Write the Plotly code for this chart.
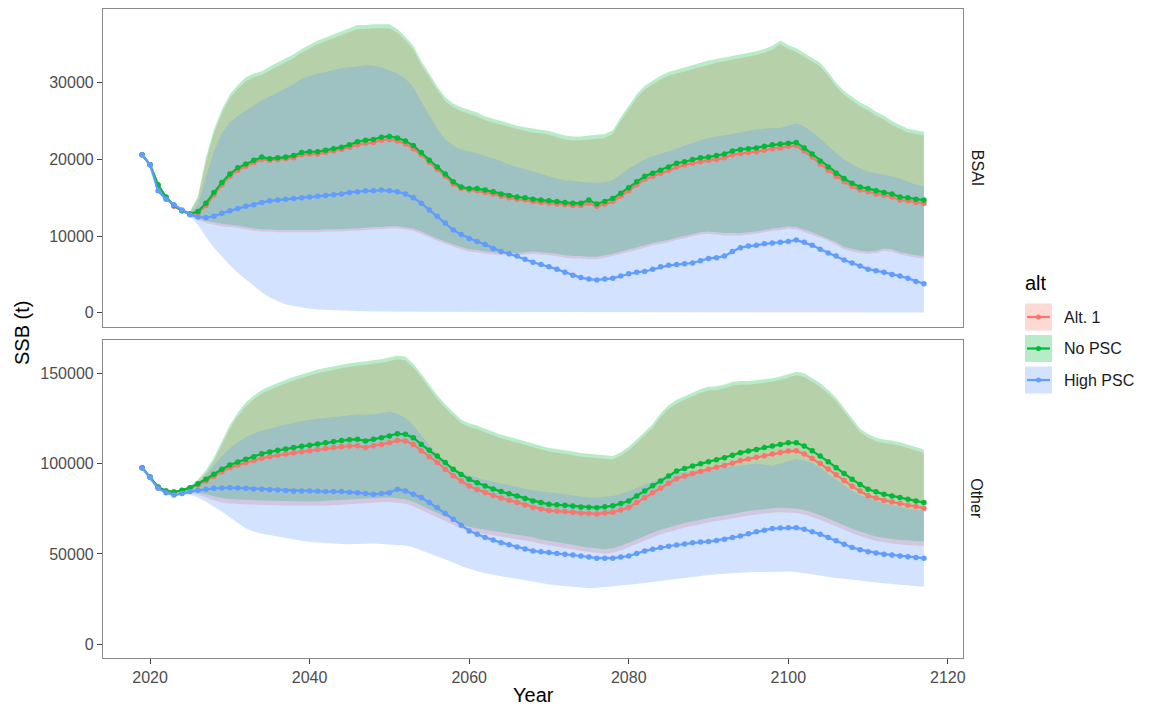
import plotly.graph_objects as go

years = list(range(2019, 2118))
alts = ["Alt. 1", "No PSC", "High PSC"]
colors = {"Alt. 1": "#F8766D", "No PSC": "#00BA38", "High PSC": "#619CFF"}
fills = {"Alt. 1": "rgba(248,118,109,0.28)", "No PSC": "rgba(0,186,56,0.28)", "High PSC": "rgba(97,156,255,0.28)"}
facets = ["BSAI", "Other"]

# ---------------- BSAI ----------------
bsai_alt1_mean = [20600, 19300, 16600, 15000, 13900, 13300, 12900, 13000, 14000, 15400,
                  16700, 17800, 18600, 19100, 19600, 20000, 19900, 20000, 20100, 20200,
                  20600, 20700, 20700, 20900, 21100, 21300, 21600, 21900, 22100, 22200,
                  22500, 22600, 22400, 22000, 21400, 20600, 19600, 18700, 17800, 16800,
                  16200, 16000, 15900, 15700, 15500, 15200, 15000, 14800, 14700, 14500,
                  14400, 14300, 14200, 14100, 14000, 14000, 14300, 13900, 14200, 14500,
                  15200, 15900, 16700, 17400, 17800, 18200, 18600, 19000, 19300, 19500,
                  19700, 19900, 20000, 20200, 20600, 20800, 20900, 21000, 21200, 21400,
                  21500, 21700, 21800, 21100, 20300, 19400, 18600, 17800, 17100, 16500,
                  16000, 15800, 15500, 15300, 15100, 14700, 14600, 14400, 14300]
bsai_nopsc_mean = [20600, 19300, 16700, 15100, 14000, 13300, 12900, 13200, 14300, 15700,
                   17000, 18100, 18900, 19400, 19900, 20300, 20100, 20200, 20300, 20500,
                   20900, 21000, 21000, 21200, 21400, 21600, 21900, 22300, 22500, 22600,
                   22900, 23000, 22800, 22400, 21800, 20900, 19900, 19000, 18100, 17100,
                   16400, 16200, 16200, 16000, 15800, 15500, 15300, 15100, 15000, 14800,
                   14700, 14600, 14500, 14400, 14300, 14300, 14700, 14200, 14500, 14900,
                   15600, 16300, 17100, 17800, 18200, 18600, 19000, 19500, 19700, 20000,
                   20200, 20300, 20500, 20700, 21100, 21300, 21400, 21500, 21700, 21900,
                   22000, 22100, 22200, 21500, 20700, 19800, 19000, 18200, 17500, 16900,
                   16400, 16200, 15900, 15700, 15500, 15100, 15000, 14800, 14700]
bsai_high_mean = [20600, 19300, 15900, 14800, 14100, 13400, 12800, 12500, 12400, 12600,
                  13000, 13300, 13600, 13900, 14100, 14400, 14600, 14700, 14800, 14900,
                  15000, 15100, 15200, 15300, 15400, 15500, 15700, 15800, 15900, 15900,
                  16000, 15900, 15800, 15500, 15000, 14300, 13400, 12600, 11700, 10800,
                  10200, 9700, 9300, 8900, 8400, 8000, 7700, 7400, 7000, 6600,
                  6300, 6000, 5700, 5300, 4900, 4600, 4400, 4300, 4400, 4500,
                  4800, 5100, 5300, 5400, 5700, 6000, 6200, 6300, 6400, 6500,
                  6800, 7100, 7200, 7400, 8000, 8500, 8700, 8800, 9000, 9100,
                  9200, 9300, 9500, 9200, 8800, 8300, 7800, 7400, 6900, 6500,
                  6100, 5700, 5500, 5300, 5000, 4800, 4500, 4100, 3800]
bsai_alt1_hi = [20600, 19300, 16700, 15100, 14000, 13300, 13100, 14900, 19700, 23400,
                26000, 28000, 29200, 30200, 30700, 31000, 31600, 32100, 32600, 33200,
                33900, 34500, 35000, 35400, 35800, 36200, 36700, 37000, 37000, 37100,
                37100, 37100, 36500, 35500, 34300, 32300, 30700, 29000, 27600, 26800,
                26300, 26000, 25600, 25100, 24800, 24500, 24200, 23900, 23700, 23500,
                23400, 23200, 22900, 22600, 22500, 22500, 22600, 22700, 22800, 23300,
                25000, 26500, 28000, 29100, 29800, 30400, 30900, 31200, 31500, 31800,
                32100, 32400, 32600, 32800, 33000, 33200, 33400, 33600, 33900, 34300,
                35000, 34400, 34000, 33400, 32800, 32100, 30900, 29500, 28400, 27600,
                26900, 26400, 25700, 25200, 24500, 24000, 23500, 23300, 23100]
bsai_alt1_lo = [20600, 19300, 16500, 14900, 13800, 13100, 12600, 12100, 11700, 11500,
                11300, 11200, 11100, 10900, 10700, 10600, 10600, 10500, 10500, 10500,
                10500, 10500, 10500, 10600, 10600, 10600, 10700, 10700, 10800, 10900,
                10900, 11000, 11000, 10900, 10700, 10300, 9900, 9400, 9000, 8600,
                8300, 8000, 7900, 7700, 7600, 7500, 7500, 7500, 7600, 7700,
                7600, 7500, 7400, 7200, 7100, 7100, 7000, 7000, 7200, 7400,
                7700, 7900, 8200, 8500, 8800, 9000, 9200, 9500, 9800, 10000,
                10200, 10300, 10200, 10100, 10100, 10100, 10200, 10300, 10500, 10700,
                10800, 11000, 10900, 10600, 10200, 9800, 9400, 8900, 8300, 8000,
                7800, 7700, 7800, 8100, 8000, 7600, 7400, 7200, 7100]
bsai_nopsc_hi = [20600, 19300, 16800, 15200, 14100, 13400, 13200, 15200, 20200, 23900,
                 26500, 28500, 29700, 30700, 31200, 31500, 32100, 32600, 33100, 33700,
                 34400, 35000, 35500, 35900, 36300, 36700, 37200, 37500, 37500, 37600,
                 37600, 37600, 37000, 36000, 34800, 32800, 31200, 29500, 28100, 27300,
                 26800, 26500, 26100, 25600, 25300, 25000, 24700, 24400, 24200, 24000,
                 23900, 23700, 23400, 23100, 23000, 23000, 23100, 23200, 23300, 23800,
                 25500, 27000, 28500, 29600, 30300, 30900, 31400, 31700, 32000, 32300,
                 32600, 32900, 33100, 33300, 33500, 33700, 33900, 34100, 34400, 34800,
                 35500, 34900, 34500, 33900, 33300, 32600, 31400, 30000, 28900, 28100,
                 27400, 26900, 26200, 25700, 25000, 24500, 24000, 23800, 23600]
bsai_nopsc_lo = [20600, 19300, 16600, 15000, 13900, 13200, 12700, 12300, 12000, 11800,
                 11600, 11500, 11400, 11200, 11000, 10900, 10900, 10800, 10800, 10800,
                 10800, 10800, 10800, 10900, 10900, 10900, 11000, 11000, 11100, 11200,
                 11200, 11300, 11300, 11200, 11000, 10600, 10200, 9700, 9300, 8900,
                 8600, 8300, 8200, 8000, 7900, 7800, 7800, 7800, 7900, 8000,
                 7900, 7800, 7700, 7500, 7400, 7400, 7300, 7300, 7500, 7700,
                 8000, 8200, 8500, 8800, 9100, 9300, 9500, 9800, 10100, 10300,
                 10500, 10600, 10500, 10400, 10400, 10400, 10500, 10600, 10800, 11000,
                 11100, 11300, 11200, 10900, 10500, 10100, 9700, 9200, 8600, 8300,
                 8100, 8000, 8100, 8400, 8300, 7900, 7700, 7500, 7400]
bsai_high_hi = [20600, 19300, 16000, 14900, 14200, 13500, 13000, 14000, 17700, 21000,
                23400, 24800, 25700, 26400, 27000, 27700, 28200, 28700, 29200, 29800,
                30500, 30900, 31200, 31400, 31700, 31900, 32000, 32100, 32300, 32200,
                32000, 31600, 31200, 30500, 29400, 27500, 25800, 24000, 22600, 21800,
                21300, 21100, 20800, 20400, 20100, 19800, 19300, 19000, 18700, 18400,
                18000, 17800, 17500, 17300, 17200, 17100, 17000, 17000, 17000, 17300,
                18100, 18800, 19400, 20000, 20400, 20700, 21100, 21400, 21800, 22200,
                22500, 22800, 23000, 23100, 23300, 23500, 23700, 23900, 24000, 24100,
                24100, 24400, 24700, 24300, 23600, 22700, 21700, 20800, 20000, 19400,
                18800, 18400, 18200, 18000, 17800, 17500, 17100, 16700, 16500]
bsai_high_lo = [20600, 19300, 15800, 14700, 14000, 13300, 12600, 11500, 9900, 8500,
                7300, 6200, 5200, 4300, 3500, 2700, 2000, 1500, 1100, 900,
                700, 550, 450, 400, 350, 300, 280, 250, 220, 200,
                180, 160, 150, 150, 140, 140, 130, 130, 120, 120,
                110, 110, 100, 100, 100, 100, 100, 100, 90, 90,
                90, 90, 90, 80, 80, 80, 80, 80, 80, 80,
                80, 80, 80, 70, 70, 70, 70, 70, 70, 70,
                70, 70, 70, 60, 60, 60, 60, 60, 60, 60,
                60, 60, 60, 60, 60, 60, 50, 50, 50, 50,
                50, 50, 50, 50, 50, 50, 50, 50, 50]

# ---------------- Other ----------------
other_alt1_mean = [97900, 92700, 87200, 85000, 84400, 85200, 86500, 88400, 90500, 93000,
                   95600, 97900, 99300, 100600, 101800, 103100, 104000, 104800, 105400, 106100,
                   106700, 107300, 107900, 108500, 109100, 109600, 109900, 110000, 109100, 110000,
                   110800, 111700, 113000, 112700, 110800, 107200, 104000, 100800, 97000, 93400,
                   90500, 87700, 85800, 84100, 82500, 81000, 79800, 78600, 77200, 75800,
                   75000, 74100, 73800, 73500, 73100, 72600, 72400, 72200, 72700, 73200,
                   74400, 75800, 78500, 81200, 83900, 86500, 89200, 91800, 93200, 94600,
                   95800, 97000, 98100, 99100, 100400, 101800, 102700, 103600, 104500, 105400,
                   106300, 107100, 107200, 105500, 102900, 100200, 97100, 93900, 90700, 87600,
                   84900, 82300, 81000, 79700, 78800, 78000, 77100, 76300, 75400]
other_nopsc_mean = [97900, 92700, 87200, 85000, 84400, 85300, 86800, 89000, 91400, 94200,
                    97000, 99400, 101000, 102500, 104000, 105600, 106600, 107500, 108200, 109000,
                    109700, 110300, 111000, 111700, 112400, 113000, 113400, 113600, 112700, 113600,
                    114500, 115400, 116700, 116400, 114500, 110800, 107600, 104400, 100700, 97000,
                    94100, 91400, 89500, 87700, 86100, 84600, 83400, 82200, 80800, 79400,
                    78500, 77600, 77300, 77000, 76600, 76100, 75900, 75700, 76200, 76700,
                    78000, 79400, 82200, 85000, 87800, 90500, 93300, 96000, 97400, 98800,
                    100000, 101200, 102300, 103400, 104800, 106200, 107100, 108000, 109000, 109900,
                    110800, 111700, 111700, 109900, 107200, 104400, 101200, 97900, 94600, 91400,
                    88600, 85900, 84500, 83100, 82200, 81300, 80300, 79400, 78500]
other_high_mean = [97900, 92400, 86400, 84000, 82700, 83500, 84600, 85300, 85900, 86400,
                   86600, 86800, 86600, 86400, 86100, 85900, 85700, 85500, 85200, 85000,
                   85000, 85000, 84800, 84600, 84600, 84600, 84300, 84000, 83500, 83100,
                   83500, 84000, 85900, 85000, 83200, 81300, 78500, 75700, 72500, 69300,
                   66000, 62800, 60900, 59100, 57700, 56300, 55100, 53900, 52800, 51700,
                   51200, 50800, 50300, 49900, 49400, 48900, 48300, 47700, 47700, 47700,
                   48300, 48900, 50300, 51700, 52600, 53600, 54300, 55000, 55600, 56300,
                   56600, 56900, 57500, 58200, 59100, 60000, 61200, 62400, 63200, 64100,
                   64400, 64600, 64600, 63700, 62300, 61000, 59100, 57300, 55400, 53600,
                   52400, 51300, 50600, 49900, 49400, 48900, 48400, 48000, 47700]
other_alt1_hi = [97900, 92700, 87200, 85100, 84700, 85800, 87400, 90300, 95000, 101700,
                 110500, 119500, 126500, 132000, 135800, 139000, 141000, 143000, 144700, 146200,
                 147800, 149000, 150300, 151300, 152200, 153000, 153800, 154500, 155000, 155500,
                 156000, 156800, 158000, 157500, 153500, 148000, 142000, 136000, 131000, 126500,
                 122500, 120500, 119300, 117500, 115700, 114200, 113000, 111700, 110300, 109200,
                 107700, 106800, 106300, 105700, 104800, 104000, 103600, 103200, 102800, 102400,
                 104500, 107500, 111500, 115500, 120000, 126000, 130500, 133500, 135300, 137500,
                 139500, 140700, 141000, 142000, 143500, 144000, 143900, 144300, 144700, 145500,
                 146500, 148000, 149100, 148200, 145500, 142800, 139000, 134700, 129000, 123000,
                 117500, 114500, 112500, 111500, 111000, 110000, 108800, 107200, 106000]
other_alt1_lo = [97900, 92700, 87000, 84600, 83800, 84000, 84000, 83000, 81500, 79800,
                 78600, 78000, 77700, 77400, 77200, 77100, 77000, 76900, 76800, 76700,
                 76600, 76600, 76700, 76800, 76900, 77200, 77500, 77800, 78100, 78400,
                 78700, 78800, 78500, 77900, 76500, 74500, 72300, 70300, 68100, 66100,
                 64100, 62500, 61500, 60800, 60200, 59500, 58800, 58100, 57300, 56800,
                 55600, 54900, 54100, 53300, 52500, 51800, 51100, 50500, 50100, 50700,
                 52100, 53700, 55700, 57300, 59300, 60900, 62300, 63500, 64700, 65800,
                 66500, 67500, 68300, 69000, 69800, 70500, 71300, 72000, 72500, 72900,
                 73200, 73000, 72700, 71900, 70500, 69000, 67300, 65400, 63400, 61500,
                 59800, 58500, 57200, 56500, 55800, 55200, 54900, 54600, 54400]
other_nopsc_hi = [97900, 92700, 87300, 85200, 84800, 86000, 87800, 91300, 96500, 103500,
                  112500, 121500, 128500, 134000, 137800, 141000, 143000, 145000, 146700, 148200,
                  149800, 151000, 152300, 153300, 154200, 155000, 155800, 156500, 157000, 157500,
                  158000, 158800, 160000, 159500, 155500, 150000, 144000, 138000, 133000, 128500,
                  124500, 122500, 121300, 119500, 117700, 116200, 115000, 113700, 112300, 111200,
                  109700, 108800, 108300, 107700, 106800, 106000, 105600, 105200, 104800, 104400,
                  106500, 109500, 113500, 117500, 122000, 128000, 132500, 135500, 137300, 139500,
                  141500, 142700, 143000, 144000, 145500, 146000, 145900, 146300, 146700, 147500,
                  148500, 150000, 151100, 150200, 147500, 144800, 141000, 136700, 131000, 125000,
                  119500, 116500, 114500, 113500, 113000, 112000, 110800, 109200, 108000]
other_nopsc_lo = [97900, 92700, 87100, 84800, 84000, 84300, 84500, 84000, 83300, 82000,
                  81000, 80500, 80200, 79900, 79700, 79600, 79500, 79400, 79300, 79200,
                  79100, 79100, 79200, 79300, 79400, 79700, 80000, 80300, 80600, 80900,
                  81200, 81300, 81000, 80400, 79000, 77000, 74800, 72800, 70600, 68600,
                  66600, 65000, 64000, 63300, 62700, 62000, 61300, 60600, 59800, 59300,
                  58100, 57400, 56600, 55800, 55000, 54300, 53600, 53000, 52600, 53200,
                  54600, 56200, 58200, 59800, 61800, 63400, 64800, 66000, 67200, 68300,
                  69000, 70000, 70800, 71500, 72300, 73000, 73800, 74500, 75000, 75400,
                  75700, 75500, 75200, 74400, 73000, 71500, 69800, 67900, 65900, 64000,
                  62300, 61000, 59700, 59000, 58300, 57700, 57400, 57100, 56900]
other_high_hi = [97900, 92400, 86500, 84200, 83000, 84000, 85600, 88800, 93500, 99000,
                 104300, 108600, 112000, 114800, 116800, 118300, 119600, 120700, 121800, 122800,
                 123700, 124500, 125000, 125500, 126000, 126500, 127200, 127400, 127400, 127400,
                 128000, 128900, 127800, 125500, 121400, 116000, 110300, 105800, 101500, 97900,
                 95200, 93700, 92300, 91000, 90000, 89300, 88300, 87200, 86000, 85300,
                 84500, 84100, 83700, 83300, 82600, 81900, 81300, 81400, 81600, 82200,
                 83300, 84600, 86400, 88300, 90200, 92000, 93800, 94900, 95500, 95900,
                 96600, 97400, 97900, 98300, 98700, 99200, 99700, 100100, 99500, 99000,
                 100000, 101600, 102500, 101800, 100500, 97700, 94200, 91000, 87800, 85100,
                 82600, 80900, 79400, 78100, 77000, 76000, 75000, 74400, 73900]
other_high_lo = [97900, 92300, 86300, 83800, 82400, 82800, 83000, 81300, 79000, 76200,
                 73600, 70500, 67200, 64200, 62500, 61200, 60200, 59500, 58700, 58100,
                 57400, 56600, 56200, 56000, 55800, 55600, 55400, 55400, 55600, 55800,
                 55600, 55400, 55100, 54700, 53800, 52200, 50600, 48800, 47000, 45300,
                 43400, 41800, 40400, 39300, 38300, 37500, 36800, 36200, 35400, 34700,
                 33700, 33100, 32600, 32100, 31700, 31300, 31000, 31200, 31400, 31800,
                 32300, 32800, 33300, 33900, 34500, 35000, 35500, 36000, 36600, 37200,
                 37800, 38300, 38700, 39100, 39400, 39600, 39800, 40000, 40200, 40300,
                 40300, 40300, 40000, 39400, 38800, 38000, 37200, 36500, 35800, 35300,
                 35000, 34600, 34200, 33700, 33400, 33100, 32800, 32300, 31800]

x_ticks = [2020, 2040, 2060, 2080, 2100, 2120]
bsai_ticks = [0, 10000, 20000, 30000]
other_ticks = [0, 50000, 100000, 150000]

data = {
    "BSAI": {
        "Alt. 1": (bsai_alt1_mean, bsai_alt1_lo, bsai_alt1_hi),
        "No PSC": (bsai_nopsc_mean, bsai_nopsc_lo, bsai_nopsc_hi),
        "High PSC": (bsai_high_mean, bsai_high_lo, bsai_high_hi),
    },
    "Other": {
        "Alt. 1": (other_alt1_mean, other_alt1_lo, other_alt1_hi),
        "No PSC": (other_nopsc_mean, other_nopsc_lo, other_nopsc_hi),
        "High PSC": (other_high_mean, other_high_lo, other_high_hi),
    },
}
for f in data:
    for a in data[f]:
        for arr in data[f][a]:
            assert len(arr) == len(years), (f, a, len(arr))

# ---------------- layout geometry ----------------
# The page body has an 8px margin, so the figure is drawn 8px smaller and every
# target position (given in window pixels) is shifted by that offset.
OFF = 8
W, H = 1149 - OFF, 708 - OFF
# target plot area in window pixels: x 103..963, y 9..658
TOP_PX, BOT_PX, LEFT_PX, RIGHT_PX = 9, 658, 103, 963
L = LEFT_PX - OFF
R = W - (RIGHT_PX - OFF)
T = TOP_PX - OFF
B = H - (BOT_PX - OFF)
PW = W - L - R
PH = H - T - B


def px(x):
    return (x - OFF - L) / PW


def py(y):
    return (H - B - (y - OFF)) / PH


FONT = "Liberation Sans, Arial, Helvetica, sans-serif"
fig = go.Figure()
axes = {"BSAI": ("x", "y"), "Other": ("x2", "y2")}

# ribbons
for f in facets:
    xa, ya = axes[f]
    for a in alts:
        m, lo, hi = data[f][a]
        fig.add_trace(go.Scatter(
            x=years + years[::-1], y=hi + lo[::-1], xaxis=xa, yaxis=ya,
            mode="lines", fill="toself", fillcolor=fills[a],
            line=dict(width=0, color=fills[a]), hoverinfo="skip", showlegend=False))
# lines + points
for f in facets:
    xa, ya = axes[f]
    for a in alts:
        m, lo, hi = data[f][a]
        fig.add_trace(go.Scatter(
            x=years, y=m, xaxis=xa, yaxis=ya, mode="lines+markers", name=a,
            line=dict(color=colors[a], width=2.2),
            marker=dict(color=colors[a], size=5.5), showlegend=False))

axis_common = dict(showline=True, mirror=True, linecolor="#8a8a8a", linewidth=1.2,
                   showgrid=False, zeroline=False, ticks="outside", ticklen=5,
                   tickcolor="#444444", tickwidth=1,
                   tickfont=dict(family=FONT, size=16, color="#4d4d4d"))

fig.update_layout(
    width=W, height=H, paper_bgcolor="white", plot_bgcolor="white",
    margin=dict(l=L, r=R, t=T, b=B, autoexpand=False), showlegend=False,
    font=dict(family=FONT),
    xaxis=dict(domain=[0, 1], range=[2014.1, 2121.9], anchor="y",
               **{**axis_common, "ticks": "", "showticklabels": False}),
    yaxis=dict(domain=[py(326.7), 1], range=[-1800, 39600], anchor="x",
               tickvals=bsai_ticks, ticktext=[str(v) for v in bsai_ticks], **axis_common),
    xaxis2=dict(domain=[0, 1], range=[2014.1, 2121.9], anchor="y2", matches="x",
                tickvals=x_ticks, ticktext=[str(v) for v in x_ticks], **axis_common),
    yaxis2=dict(domain=[0, py(340)], range=[-7700, 168700], anchor="x2",
                tickvals=other_ticks, ticktext=[str(v) for v in other_ticks], **axis_common),
)

ann = []
shapes = []


def text(t, x, y, size, color, angle=0, xanchor="center"):
    ann.append(dict(text=t, x=px(x), y=py(y), xref="paper", yref="paper",
                    xanchor=xanchor, yanchor="middle", showarrow=False, textangle=angle,
                    font=dict(size=size, color=color, family=FONT)))


# axis titles
text("SSB (t)", 22, 333, 20, "black", angle=-90)
text("Year", 533, 695, 20, "black")
# strip labels
for f, yc in zip(facets, [167.8, 499.2]):
    text(f, 977, yc, 16, "#1a1a1a", angle=90)
# legend
text("alt", 1023, 283, 20, "black", xanchor="left")
for a, yc in zip(alts, [317, 348.5, 380]):
    shapes.append(dict(type="rect", xref="paper", yref="paper",
                       x0=px(1025), x1=px(1052), y0=py(yc + 13.5), y1=py(yc - 13.5),
                       fillcolor=fills[a], line=dict(width=0)))
    shapes.append(dict(type="line", xref="paper", yref="paper",
                       x0=px(1027), x1=px(1050), y0=py(yc), y1=py(yc),
                       line=dict(color=colors[a], width=2.2)))
    shapes.append(dict(type="circle", xref="paper", yref="paper",
                       x0=px(1036), x1=px(1041), y0=py(yc + 2.5), y1=py(yc - 2.5),
                       fillcolor=colors[a], line=dict(width=0)))
    text(a, 1062, yc, 16, "#1a1a1a", xanchor="left")

fig.update_layout(annotations=ann, shapes=shapes)
fig.write_html("out.html")
